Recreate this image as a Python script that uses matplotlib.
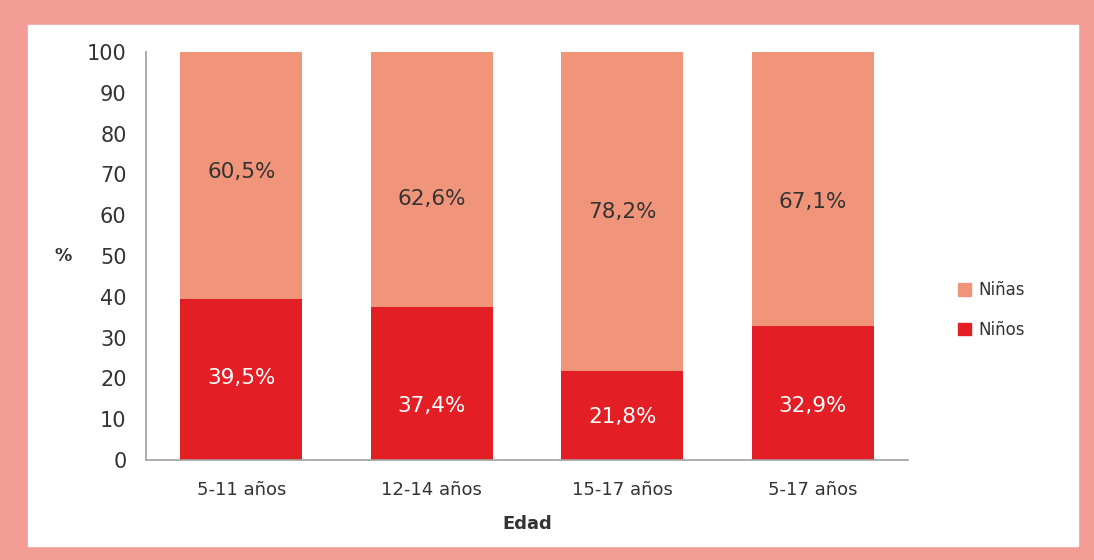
import matplotlib
matplotlib.use("Agg")
import matplotlib.pyplot as plt
from matplotlib.patches import Rectangle, Patch

categories = ["5-11 años", "12-14 años", "15-17 años", "5-17 años"]
ninos = [39.5, 37.4, 21.8, 32.9]
ninas = [60.5, 62.6, 78.2, 67.1]
yticks = [0, 10, 20, 30, 40, 50, 60, 70, 80, 90, 100]

# label placement (axis units), as in the reference
ninos_label_y = [20.1, 13.2, 10.5, 13.2]
ninas_label_y = [70.6, 64.0, 60.8, 63.2]

c_ninas = "#F0957A"
c_ninos = "#E31E25"
border = "#F49C96"
txt = "#333333"

plt.rcParams['font.family'] = ['DejaVu Sans']
W, H = 1094, 560
fig = plt.figure(figsize=(W/100, H/100), dpi=100)
fig.patches.append(Rectangle((0, 0), 1, 1, transform=fig.transFigure, color=border, zorder=-2))
fig.patches.append(Rectangle((28/W, 1-546/H), (1078-28)/W, (546-25)/H, transform=fig.transFigure,
                             color="white", zorder=-1))

ax = fig.add_axes([146/W, 1-460/H, (908-146)/W, (460-52)/H])
ax.set_facecolor("none")
x = range(len(categories))
w = 0.64
ax.bar(x, ninos, width=w, color=c_ninos, label="Niños")
ax.bar(x, ninas, width=w, bottom=ninos, color=c_ninas, label="Niñas")

for i in x:
    ax.text(i, ninos_label_y[i], f"{ninos[i]:.1f}%".replace(".", ","), ha="center", va="center",
            color="white", fontsize=15.5)
    ax.text(i, ninas_label_y[i], f"{ninas[i]:.1f}%".replace(".", ","), ha="center", va="center",
            color=txt, fontsize=15.5)

ax.set_xlim(-0.5, 3.5)
ax.set_ylim(0, 100)
ax.set_yticks(yticks)
ax.set_xticks(list(x))
ax.set_xticklabels(categories)
ax.tick_params(axis="both", length=0, labelcolor=txt)
ax.tick_params(axis="y", pad=14, labelsize=15)
ax.tick_params(axis="x", pad=15, labelsize=13)
for s in ["top", "right"]:
    ax.spines[s].set_visible(False)
for s in ["left", "bottom"]:
    ax.spines[s].set_color("#A0A0A0")
    ax.spines[s].set_linewidth(1.2)

fig.text(63/W, 1-256/H, "%", ha="center", va="center", fontsize=12.5, fontweight="bold", color=txt)
fig.text(527/W, 1-524/H, "Edad", ha="center", va="center", fontsize=13, fontweight="bold", color=txt)

handles = [Patch(color=c_ninas, label="Niñas"), Patch(color=c_ninos, label="Niños")]
leg = fig.legend(handles=handles, loc="center left", bbox_to_anchor=(943/W, 1-310/H), frameon=False,
                 fontsize=12, handlelength=0.8, handleheight=0.8, handletextpad=0.4, labelspacing=1.3)
for t in leg.get_texts():
    t.set_color(txt)

fig.savefig("out.png", dpi=100)
